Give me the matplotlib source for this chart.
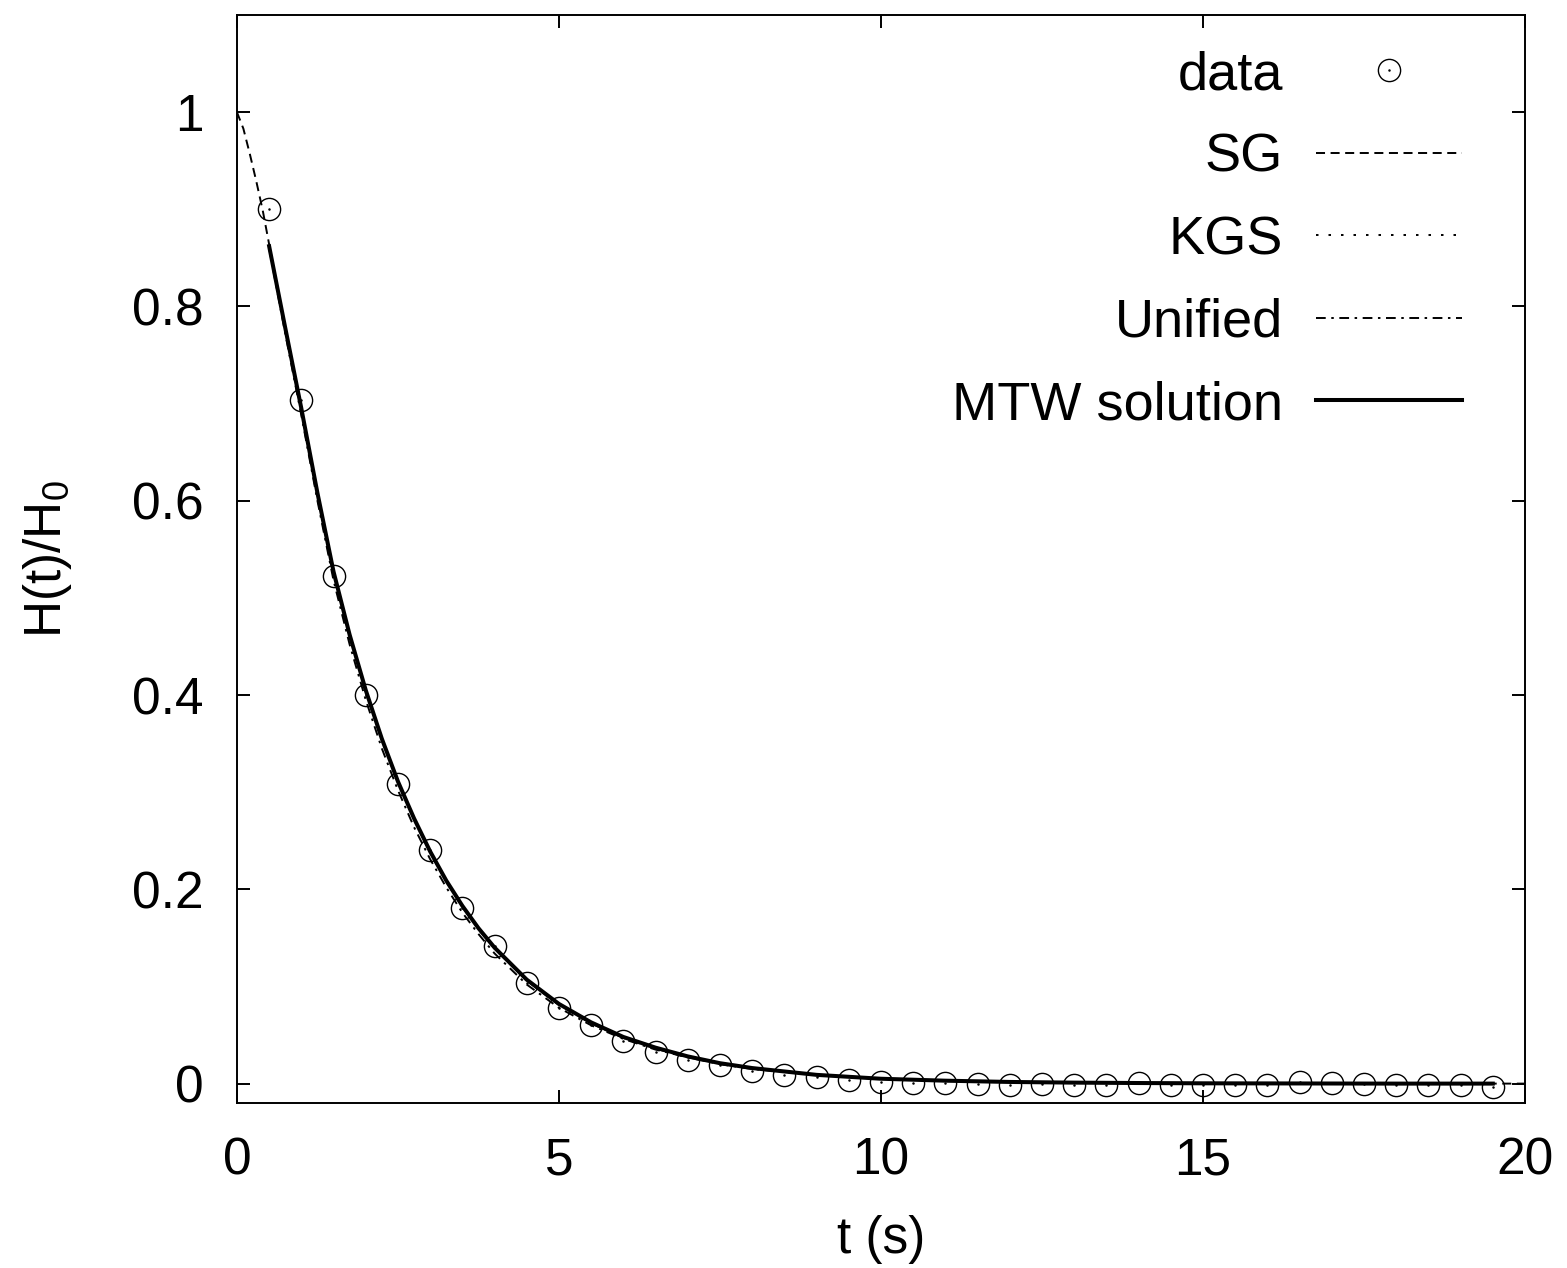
import matplotlib
matplotlib.use("Agg")
import matplotlib.pyplot as plt
from matplotlib.path import Path

plt.rcParams['font.family'] = ['Liberation Sans', 'DejaVu Sans']
plt.rcParams['mathtext.default'] = 'regular'
plt.rcParams['lines.scale_dashes'] = False

# measured data (circles)
t_data = [0.5, 1.0, 1.5, 2.0, 2.5, 3.0, 3.5, 4.0, 4.5, 5.0, 5.5, 6.0, 6.5, 7.0,
          7.5, 8.0, 8.5, 9.0, 9.5, 10.0, 10.5, 11.0, 11.5, 12.0, 12.5, 13.0,
          13.5, 14.0, 14.5, 15.0, 15.5, 16.0, 16.5, 17.0, 17.5, 18.0, 18.5,
          19.0, 19.5]
h_data = [0.900, 0.704, 0.522, 0.400, 0.308, 0.240, 0.181, 0.142, 0.104, 0.078,
          0.060, 0.044, 0.033, 0.024, 0.019, 0.013, 0.009, 0.007, 0.004, 0.002,
          0.001, 0.001, 0.000, -0.001, 0.000, -0.001, -0.001, 0.001, -0.001,
          -0.001, -0.001, -0.001, 0.002, 0.001, 0.000, -0.001, -0.001, -0.001,
          -0.004]

# SG model (starts at t = 0)
t_sg = [0.0, 0.1, 0.2, 0.3, 0.4, 0.5, 0.75, 1.0, 1.25, 1.5, 1.75, 2.0, 2.25,
        2.5, 2.75, 3.0, 3.25, 3.5, 3.75, 4.0, 4.5, 5.0, 5.5, 6.0, 6.5, 7.0,
        7.5, 8.0, 9.0, 10.0, 11.0, 12.0, 13.0, 14.0, 15.0, 16.0, 17.0, 18.0,
        19.0, 20.0]
h_sg = [1.000, 0.983, 0.957, 0.929, 0.899, 0.864, 0.777, 0.694, 0.607, 0.526,
        0.461, 0.404, 0.354, 0.310, 0.272, 0.238, 0.208, 0.182, 0.159, 0.139,
        0.106, 0.081, 0.062, 0.047, 0.036, 0.027, 0.021, 0.016, 0.009, 0.005,
        0.003, 0.0017, 0.001, 0.0006, 0.0003, 0.0002, 0.0001, 0.0, 0.0, 0.0]

# KGS, Unified and MTW (start at t = 0.5)
t_fit = [0.5, 0.75, 1.0, 1.25, 1.5, 1.75, 2.0, 2.25, 2.5, 2.75, 3.0, 3.25,
         3.5, 3.75, 4.0, 4.5, 5.0, 5.5, 6.0, 6.5, 7.0, 7.5, 8.0, 9.0, 10.0,
         11.0, 12.0, 13.0, 14.0, 15.0, 16.0, 17.0, 18.0, 19.0, 19.5]
h_kgs = [0.862, 0.777, 0.695, 0.608, 0.527, 0.462, 0.405, 0.355, 0.311, 0.273,
         0.239, 0.209, 0.183, 0.160, 0.140, 0.107, 0.082, 0.063, 0.048, 0.037,
         0.028, 0.021, 0.016, 0.009, 0.005, 0.003, 0.0017, 0.001, 0.0006,
         0.0003, 0.0002, 0.0001, 0.0, 0.0, 0.0]
h_unified = [0.860, 0.772, 0.688, 0.600, 0.518, 0.452, 0.395, 0.345, 0.302,
             0.264, 0.231, 0.202, 0.176, 0.154, 0.134, 0.102, 0.078, 0.060,
             0.046, 0.035, 0.027, 0.020, 0.015, 0.009, 0.005, 0.003, 0.0017,
             0.001, 0.0006, 0.0003, 0.0002, 0.0001, 0.0, 0.0, 0.0]
h_mtw = [0.862, 0.778, 0.695, 0.608, 0.527, 0.462, 0.405, 0.355, 0.311, 0.273,
         0.239, 0.209, 0.183, 0.160, 0.140, 0.107, 0.082, 0.063, 0.048, 0.037,
         0.028, 0.021, 0.016, 0.009, 0.005, 0.003, 0.0017, 0.001, 0.0006,
         0.0003, 0.0002, 0.0001, 0.0, 0.0, 0.0]

# circle with a dot in the middle, like gnuplot's point type
circ = Path.unit_circle()
dot = Path(circ.vertices * 0.05, circ.codes)
circ_dot = Path.make_compound_path(circ, dot)

fig = plt.figure(figsize=(15.67, 12.68), dpi=100)
ax = fig.add_axes([0.1512, 0.1301, 0.8220, 0.8581])

ax.plot(t_data, h_data, linestyle='none', marker=circ_dot, markersize=16,
        markerfacecolor='none', markeredgecolor='black', markeredgewidth=1.0,
        label='data')
ax.plot(t_sg, h_sg, color='black', lw=1.4, dashes=(6.5, 4), label='SG')
ax.plot(t_fit, h_kgs, color='black', lw=1.4, dashes=(1.8, 7.2), label='KGS')
ax.plot(t_fit, h_unified, color='black', lw=1.4, dashes=(7, 4, 1.8, 4),
        label='Unified')
ax.plot(t_fit, h_mtw, color='black', lw=2.9, label='MTW solution')

ax.set_xlim(0, 20)
ax.set_ylim(-0.02, 1.1)
ax.set_xticks([0, 5, 10, 15, 20])
ax.set_yticks([0, 0.2, 0.4, 0.6, 0.8, 1.0])
ax.set_yticklabels(['0', '0.2', '0.4', '0.6', '0.8', '1'])
ax.tick_params(direction='in', length=9.4, width=1.4, top=True, right=True,
               labelsize=37, pad=24)
for s in ax.spines.values():
    s.set_linewidth(1.4)

ax.set_xlabel('t (s)', fontsize=37, labelpad=21)
ax.set_ylabel('H(t)/H$_0$', fontsize=37, labelpad=42)

leg = ax.legend(loc='upper right', bbox_to_anchor=(1, 1.0254), frameon=False,
                markerfirst=False, fontsize=39, handlelength=2.7,
                handletextpad=0.61, labelspacing=0.6, borderaxespad=0.76,
                numpoints=1)

fig.savefig('out.png', dpi=100)
